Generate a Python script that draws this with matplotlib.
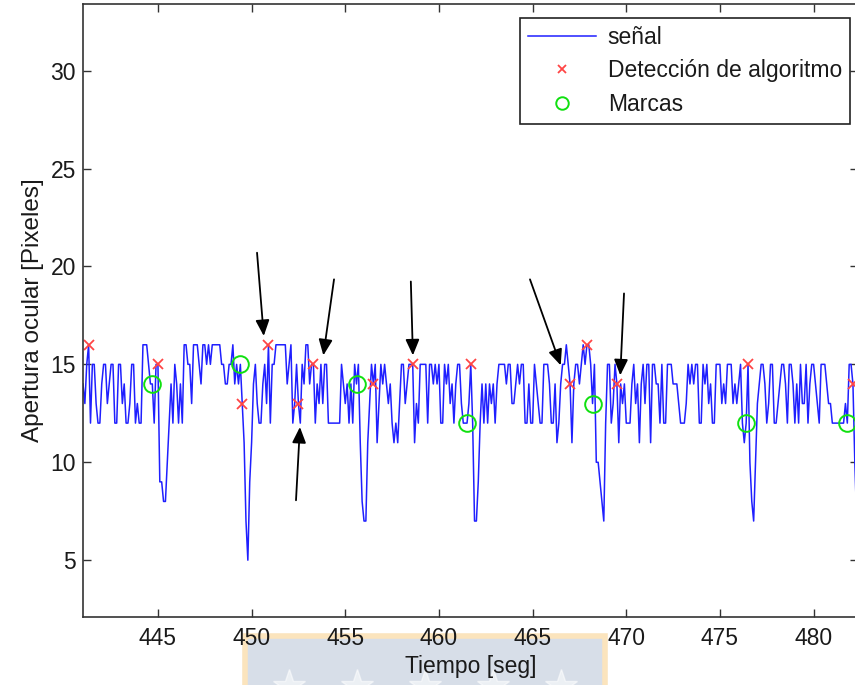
import matplotlib
matplotlib.use('Agg')
import matplotlib.pyplot as plt
import numpy as np
from matplotlib.patches import Rectangle

plt.rcParams['font.family'] = ['Liberation Sans', 'DejaVu Sans']

# señal muestreada cada 0.1 s desde t = 441.0 s (una fila = 1 segundo)
t_inicio = 441.0
paso = 0.1
senal = [
    14, 13, 15, 16, 12, 15, 15, 13, 12, 12,   # 441
    14, 15, 15, 13, 14, 15, 15, 12, 12, 15,   # 442
    15, 13, 14, 12, 12, 13, 15, 15, 12, 13,   # 443
    12, 12, 16, 16, 16, 15, 14, 14, 12, 15,   # 444
    15, 9, 9, 8, 8, 10, 12, 14, 12, 15,       # 445
    14, 12, 14, 12, 16, 16, 15, 15, 13, 16,   # 446
    16, 16, 15, 14, 16, 16, 15, 16, 15, 16,   # 447
    16, 16, 16, 16, 15, 15, 14, 14, 15, 15,   # 448
    16, 14, 15, 14, 15, 13, 11, 7, 5, 9,      # 449
    11, 14, 15, 13, 12, 12, 14, 15, 13, 16,   # 450
    12, 15, 15, 16, 16, 16, 16, 16, 16, 14,   # 451
    15, 16, 12, 13, 15, 13, 12, 15, 14, 16,   # 452
    16, 14, 15, 15, 12, 14, 13, 15, 13, 15,   # 453
    15, 12, 12, 12, 12, 12, 12, 12, 15, 14,   # 454
    13, 14, 12, 14, 12, 15, 14, 15, 11, 8,    # 455
    7, 7, 11, 13, 15, 14, 15, 11, 13, 15,     # 456
    14, 15, 14, 13, 14, 12, 11, 12, 11, 13,   # 457
    15, 15, 13, 14, 15, 15, 15, 11, 13, 12,   # 458
    15, 15, 15, 15, 12, 15, 15, 14, 15, 14,   # 459
    15, 12, 12, 15, 14, 15, 13, 14, 12, 14,   # 460
    15, 15, 13, 12, 12, 12, 13, 15, 12, 7,    # 461
    7, 9, 12, 14, 12, 14, 12, 14, 13, 14,     # 462
    12, 14, 15, 15, 15, 15, 14, 15, 15, 13,   # 463
    13, 14, 15, 14, 15, 15, 12, 12, 14, 12,   # 464
    12, 15, 14, 13, 12, 12, 15, 15, 15, 14,   # 465
    12, 12, 14, 11, 12, 14, 15, 15, 16, 15,   # 466
    14, 11, 14, 15, 15, 14, 15, 16, 15, 16,   # 467
    16, 15, 13, 15, 10, 10, 9, 8, 7, 12,      # 468
    15, 15, 12, 13, 15, 14, 11, 14, 13, 14,   # 469
    12, 12, 12, 14, 15, 13, 14, 11, 14, 15,   # 470
    13, 15, 15, 11, 15, 15, 14, 14, 12, 15,   # 471
    12, 12, 15, 15, 15, 14, 14, 14, 13, 12,   # 472
    12, 12, 13, 15, 14, 15, 14, 15, 15, 12,   # 473
    12, 15, 14, 15, 13, 14, 12, 12, 15, 15,   # 474
    15, 13, 14, 13, 15, 15, 15, 13, 14, 13,   # 475
    14, 15, 12, 11, 12, 15, 10, 8, 7, 10,     # 476
    13, 14, 15, 15, 14, 12, 13, 15, 15, 12,   # 477
    12, 13, 14, 15, 15, 14, 12, 15, 15, 14,   # 478
    12, 14, 12, 15, 13, 13, 15, 12, 14, 15,   # 479
    15, 14, 13, 12, 15, 15, 15, 14, 13, 13,   # 480
    12, 12, 12, 12, 12, 12, 12, 13, 12, 15,   # 481
    15, 14, 10, 7, 7,                         # 482
]

# deteccion del algoritmo (x rojas)
det_t = [441.3, 445.0, 449.5, 450.9, 452.5, 453.3, 456.5, 458.6, 461.7, 467.0, 467.9, 469.5, 476.5, 482.1]
det_v = [16, 15, 13, 16, 13, 15, 14, 15, 15, 14, 16, 14, 15, 14]

# marcas manuales (circulos verdes)
marca_t = [444.7, 449.4, 455.6, 461.5, 468.2, 476.4, 481.8]
marca_v = [14, 15, 14, 12, 13, 12, 12]

# flechas: (cola) -> (punta)
flecha_cola = [(450.29, 20.7), (454.4, 19.34), (458.5, 19.23), (464.86, 19.34), (469.88, 18.62), (452.37, 8.06)]
flecha_punta = [(450.65, 16.45), (453.83, 15.46), (458.61, 15.46), (466.5, 14.95), (469.68, 14.44), (452.58, 11.8)]

t = t_inicio + paso * np.arange(len(senal))

fig = plt.figure(figsize=(8.55, 6.85), dpi=100)

# marca de agua bajo la etiqueta del eje x (ejes de fondo, detras de todo)
fondo = fig.add_axes([0, 0, 1, 1], zorder=-10)
fondo.set_xlim(0, 855)
fondo.set_ylim(685, 0)
fondo.axis('off')
fondo.add_patch(Rectangle((245, 636), 360, 60, facecolor='#d7dee8', edgecolor='#fbe4bd', lw=4))
fondo.plot([289, 357, 425, 493, 561], [686] * 5, '*', color='white', alpha=0.55, ms=24, ls='none')

ax = fig.add_axes([83 / 855, 68 / 685, 775 / 855, 613 / 685])
ax.set_facecolor('white')

ax.plot(t, senal, color='#1f1fff', lw=1.1, label='señal')
ax.plot(det_t, det_v, 'x', color='#ff4545', ms=7, mew=1.3, ls='none', label='Detección de algoritmo')
ax.plot(marca_t, marca_v, 'o', mfc='none', mec='#10e010', ms=12, mew=1.4, ls='none', label='Marcas')

for cola, punta in zip(flecha_cola, flecha_punta):
    ax.annotate('', xy=punta, xytext=cola,
                arrowprops=dict(arrowstyle='-|>,head_length=0.8,head_width=0.35', color='black',
                                lw=1.3, mutation_scale=12, shrinkA=0, shrinkB=0))

ax.set_xlim(441.0, 482.37)
ax.set_ylim(2.1, 33.4)
ax.set_xticks([445, 450, 455, 460, 465, 470, 475, 480])
ax.set_yticks([5, 10, 15, 20, 25, 30])
ax.tick_params(direction='in', length=6, width=1, top=True, right=True,
               labelsize=16.5, colors='#333333', labelcolor='#1a1a1a')
ax.tick_params(axis='x', pad=7)
ax.tick_params(axis='y', pad=5)
for s in ax.spines.values():
    s.set_color('#333333')
    s.set_linewidth(1.2)

ax.set_xlabel('Tiempo [seg]', fontsize=16.5, color='#1a1a1a', labelpad=4)
ax.set_ylabel('Apertura ocular [Pixeles]', fontsize=17.5, color='#1a1a1a', labelpad=5)

leg = ax.legend(loc='upper right', bbox_to_anchor=(0.9897, 0.977), borderaxespad=0,
                fontsize=16.5, fancybox=False, edgecolor='#222222', framealpha=1,
                handlelength=3.0, handletextpad=0.5, labelspacing=0.45, markerscale=0.75,
                borderpad=0.35)
leg.get_frame().set_linewidth(1.2)
for txt in leg.get_texts():
    txt.set_color('#1a1a1a')

fig.savefig('out.png', dpi=100)
